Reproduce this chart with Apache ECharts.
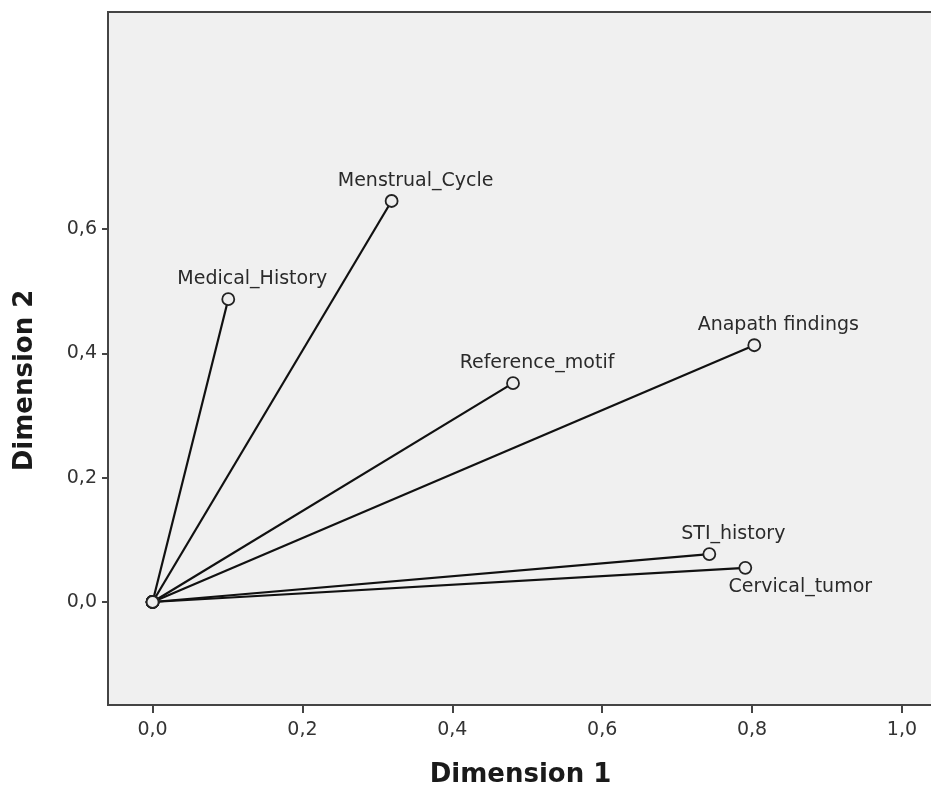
<!DOCTYPE html>
<html><head><meta charset="utf-8">
<script src="https://cdn.jsdelivr.net/npm/echarts@6/dist/echarts.min.js"></script>
<style>html,body{margin:0;padding:0;background:#fff}#c{width:931px;height:787px}</style>
</head><body><div id="c"></div>
<script>
const variables = ['Menstrual_Cycle','Medical_History','Reference_motif','Anapath findings','STI_history','Cervical_tumor'];
const dim1 = [0.319, 0.101, 0.481, 0.803, 0.743, 0.791];
const dim2 = [0.645, 0.487, 0.352, 0.413, 0.077, 0.055];
const xTicks = [0, 0.2, 0.4, 0.6, 0.8, 1.0];
const yTicks = [0, 0.2, 0.4, 0.6];
const labelBelow = ['Cervical_tumor'];

const FONT = 'DejaVu Sans, Liberation Sans, Arial';
const fmt = v => Number(v).toFixed(1).replace('.', ',');
const series = variables.map((name, i) => {
  const below = labelBelow.includes(name);
  return {
    type: 'line', name,
    data: [[0, 0], [dim1[i], dim2[i]]],
    symbol: 'circle', symbolSize: 12,
    showAllSymbol: true,
    lineStyle: { color: '#111', width: 2.2 },
    itemStyle: { color: '#eeeeee', borderColor: '#222', borderWidth: 1.8 },
    label: {
      show: true,
      formatter: p => p.dataIndex === 1 ? name : '',
      position: 'inside',
      offset: below ? [55, 19] : [24, -20],
      color: '#2a2a2a', fontFamily: FONT, fontSize: 19
    },
    emphasis: { disabled: true },
    silent: true,
    animation: false
  };
});

const chart = echarts.init(document.getElementById('c'));
chart.setOption({
  animation: false,
  grid: { left: 108, top: 12, right: -2, bottom: 82, outerBoundsMode: 'none', containLabel: false, show: true, backgroundColor: '#f0f0f0', borderColor: '#444', borderWidth: 2 },
  xAxis: {
    type: 'value', min: -0.0595, max: 1.0415,
    name: 'Dimension 1', nameLocation: 'middle', nameGap: 57,
    nameTextStyle: { fontFamily: FONT, fontWeight: 'bold', fontSize: 26, color: '#1a1a1a' },
    axisLine: { show: true, onZero: false, lineStyle: { color: '#444', width: 2 } },
    axisTick: { show: true, inside: false, length: 8, customValues: xTicks, lineStyle: { color: '#444', width: 2 } },
    axisLabel: { customValues: xTicks, formatter: fmt, margin: 16, fontFamily: FONT, fontSize: 19, color: '#333' },
    splitLine: { show: false }
  },
  yAxis: {
    type: 'value', min: -0.1657, max: 0.949,
    name: 'Dimension 2', nameLocation: 'middle', nameGap: 70, nameRotate: 90,
    nameTextStyle: { fontFamily: FONT, fontWeight: 'bold', fontSize: 26, color: '#1a1a1a', padding: [0, 44, 0, 0] },
    axisLine: { show: true, onZero: false, lineStyle: { color: '#444', width: 2 } },
    axisTick: { show: true, inside: false, length: 6, customValues: yTicks, lineStyle: { color: '#444', width: 2 } },
    axisLabel: { customValues: yTicks, formatter: fmt, margin: 11, fontFamily: FONT, fontSize: 19, color: '#333' },
    splitLine: { show: false }
  },
  series
});
</script></body></html>
